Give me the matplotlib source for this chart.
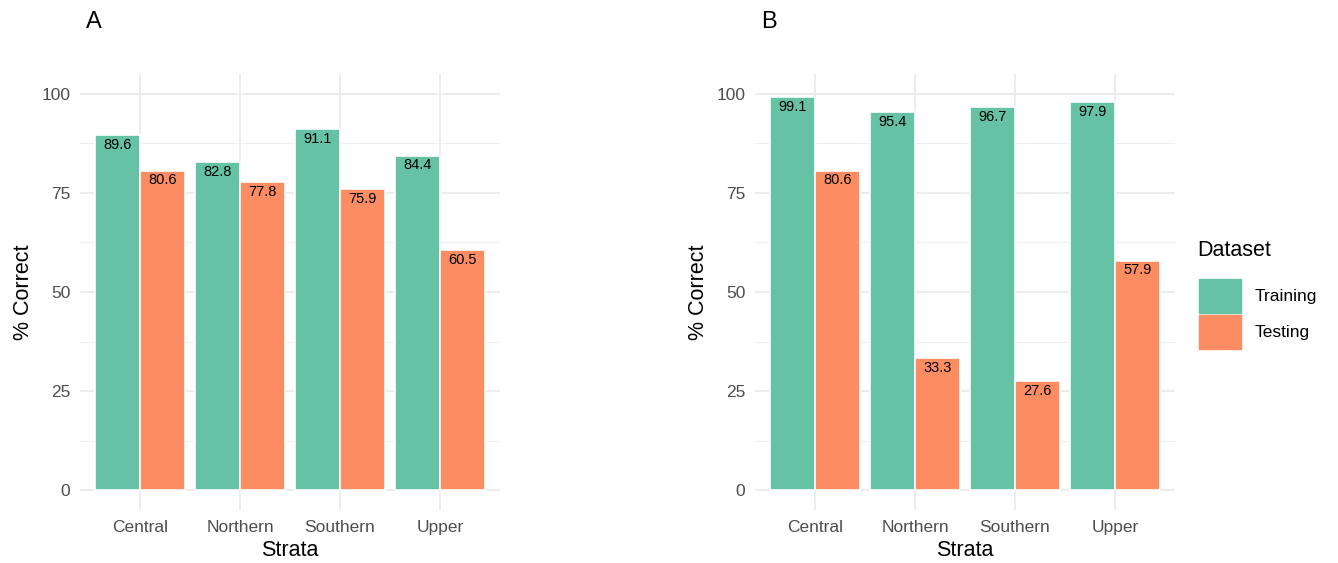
import matplotlib.pyplot as plt
import matplotlib.patches as mpatches
import numpy as np

# Dane
strata = ['Central', 'Northern', 'Southern', 'Upper']
train_a = [89.6, 82.8, 91.1, 84.4]
test_a = [80.6, 77.8, 75.9, 60.5]
train_b = [99.1, 95.4, 96.7, 97.9]
test_b = [80.6, 33.3, 27.6, 57.9]
datasets = ['Training', 'Testing']

GREEN = '#66C2A5'
ORANGE = '#FC8D62'
GRID = '#EBEBEB'

plt.rcParams['font.family'] = ['Liberation Sans', 'DejaVu Sans']

fig = plt.figure(figsize=(13.38, 5.63), dpi=100)


def draw_panel(ax, train, test, letter):
    x = np.arange(1, len(strata) + 1)
    w = 0.45
    # siatka jak w theme_minimal
    for yv in [12.5, 37.5, 62.5, 87.5]:
        ax.axhline(yv, color=GRID, lw=0.6, zorder=0)
    for yv in [0, 25, 50, 75, 100]:
        ax.axhline(yv, color=GRID, lw=1.3, zorder=0)
    for xv in x:
        ax.axvline(xv, color=GRID, lw=1.3, zorder=0)

    b1 = ax.bar(x - w / 2, train, w, color=GREEN, edgecolor='white', linewidth=1.2, zorder=2)
    b2 = ax.bar(x + w / 2, test, w, color=ORANGE, edgecolor='white', linewidth=1.2, zorder=2)
    for bars, vals in [(b1, train), (b2, test)]:
        for rect, v in zip(bars, vals):
            ax.annotate(f'{v:.1f}', (rect.get_x() + rect.get_width() / 2, v),
                        xytext=(0, -2), textcoords='offset points',
                        ha='center', va='top', fontsize=10.5, color='black', zorder=3)

    ax.set_xlim(0.4, 4.6)
    ax.set_ylim(-5, 105)
    ax.set_xticks(x)
    ax.set_xticklabels(strata)
    ax.set_yticks([0, 25, 50, 75, 100])
    ax.tick_params(length=0, labelsize=12.5, labelcolor='#4D4D4D', pad=7)
    for s in ax.spines.values():
        s.set_visible(False)
    ax.set_xlabel('Strata', fontsize=15.5, labelpad=4)
    ax.set_ylabel('% Correct', fontsize=15.5, labelpad=5)
    ax.text(0.015, 1.12, letter, transform=ax.transAxes, fontsize=17, ha='left', va='center')


ax_a = fig.add_axes([80 / 1338, 1 - 510 / 563, 420 / 1338, 436 / 563])
ax_b = fig.add_axes([755 / 1338, 1 - 510 / 563, 420 / 1338, 436 / 563])
draw_panel(ax_a, train_a, test_a, 'A')
draw_panel(ax_b, train_b, test_b, 'B')

# legenda: tytul osobno, zeby dac wiecej miejsca nad kluczami
fig.text(1197 / 1338, 1 - 250 / 563, 'Dataset', fontsize=15.5, ha='left', va='center')
handles = [mpatches.Patch(color=GREEN), mpatches.Patch(color=ORANGE)]
leg = fig.legend(handles, datasets, loc='upper left', bbox_to_anchor=(1192 / 1338, 1 - 272 / 563),
                 frameon=False, fontsize=12.5,
                 handlelength=2.4, handleheight=2.6, labelspacing=0.15, handletextpad=0.8,
                 borderaxespad=0)

fig.savefig('out.png', dpi=100, facecolor='white')
